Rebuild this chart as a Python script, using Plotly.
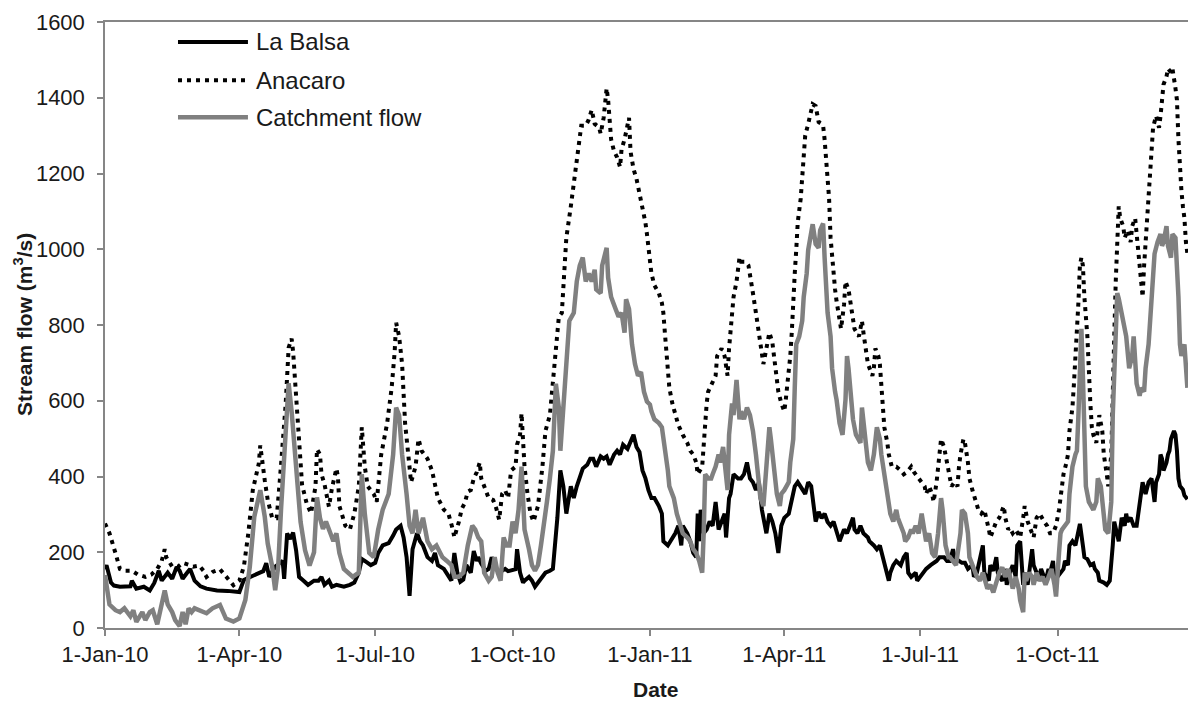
import plotly.graph_objects as go
import pandas as pd

# ---------------- data (day offset from 1-Jan-2010, stream flow m3/s) ----------------
la_balsa = [(0,155),(1,166),(4,120),(6,112),(10,109),(17,110),(18,125),(21,104),(26,109),(30,99),(33,119),(36,151),(38,125),(40,135),(42,146),(45,130),(48,161),(50,151),(52,130),(55,146),(57,156),(60,125),(64,110),(68,104),(75,99),(82,98),(86,97),(90,95),(93,127),(97,135),(100,140),(103,145),(106,150),(108,171),(110,135),(114,162),(117,171),(119,177),(120,130),(122,250),(124,235),(126,252),(128,205),(130,135),(133,125),(136,114),(140,125),(143,125),(145,135),(147,114),(150,125),(152,109),(155,114),(160,109),(164,114),(167,120),(170,146),(172,182),(174,177),(178,166),(181,172),(183,198),(186,218),(190,224),(193,244),(195,260),(198,270),(200,239),(202,187),(204,85),(206,208),(209,250),(211,229),(213,218),(216,187),(219,177),(221,198),(223,166),(227,156),(230,135),(232,125),(234,198),(236,146),(238,122),(240,128),(242,166),(245,146),(247,203),(249,177),(250,187),(252,170),(255,151),(257,156),(259,187),(261,161),(264,146),(266,150),(268,156),(270,150),(272,151),(275,155),(276,208),(278,146),(280,120),(281,125),(284,135),(286,125),(288,109),(290,120),(293,135),(295,146),(298,151),(300,156),(303,291),(305,416),(307,374),(309,302),(312,374),(314,343),(316,374),(318,395),(320,421),(323,431),(325,447),(327,447),(329,426),(332,453),(334,447),(336,453),(338,431),(341,458),(343,468),(345,458),(347,484),(350,473),(352,489),(354,510),(356,478),(358,465),(360,416),(362,395),(364,364),(366,343),(368,343),(371,322),(373,302),(374,229),(377,218),(380,239),(382,250),(384,270),(386,218),(387,270),(390,250),(392,229),(394,198),(396,187),(397,302),(398,229),(399,312),(401,250),(403,260),(405,281),(407,270),(409,333),(411,260),(413,281),(415,302),(416,239),(418,343),(419,354),(421,406),(424,395),(426,395),(428,406),(430,437),(432,395),(434,385),(436,364),(438,385),(440,312),(443,250),(445,302),(447,281),(449,250),(451,198),(453,270),(455,291),(458,302),(460,343),(462,374),(464,385),(467,364),(469,354),(471,385),(473,375),(476,281),(478,307),(480,290),(482,302),(484,280),(486,270),(488,281),(490,250),(492,229),(495,260),(497,250),(499,270),(501,291),(502,260),(504,250),(506,270),(508,250),(511,239),(512,229),(515,218),(517,208),(519,218),(521,187),(523,146),(525,125),(526,146),(528,166),(530,177),(533,166),(535,187),(537,198),(538,146),(540,135),(543,146),(544,125),(546,135),(548,146),(550,156),(553,166),(555,172),(557,177),(559,187),(562,187),(564,177),(566,177),(568,208),(569,187),(572,177),(574,172),(576,172),(578,156),(581,166),(582,135),(584,146),(586,187),(588,218),(589,146),(592,125),(593,166),(595,151),(597,187),(598,146),(600,130),(601,125),(603,156),(604,114),(606,146),(608,166),(610,135),(611,218),(613,229),(614,146),(615,114),(616,146),(618,114),(620,177),(621,208),(622,166),(624,146),(625,125),(627,156),(629,135),(630,125),(632,156),(633,146),(635,177),(636,125),(638,135),(640,146),(642,156),(643,177),(645,166),(646,218),(648,229),(650,218),(651,239),(653,275),(655,218),(656,187),(658,182),(660,166),(662,170),(663,156),(665,146),(666,125),(669,120),(671,114),(673,125),(674,166),(675,218),(676,281),(678,250),(679,229),(681,291),(683,270),(684,302),(685,281),(687,291),(689,270),(691,270),(692,302),(694,354),(695,385),(697,354),(698,374),(699,385),(701,395),(703,333),(704,385),(706,406),(707,458),(708,447),(709,416),(711,437),(712,458),(713,468),(714,499),(716,520),(717,510),(718,468),(719,395),(720,375),(722,365),(723,350),(725,340)]

anacaro = [(0,276),(3,250),(7,198),(10,156),(13,151),(18,151),(22,141),(27,135),(31,141),(35,156),(38,177),(40,208),(41,187),(45,162),(49,162),(52,172),(56,167),(59,162),(63,165),(66,151),(68,135),(72,148),(77,155),(81,135),(86,113),(90,125),(93,162),(96,250),(99,364),(103,434),(104,482),(107,390),(109,338),(112,290),(115,290),(117,385),(119,496),(121,590),(123,740),(125,764),(126,730),(127,666),(128,590),(130,478),(132,378),(135,330),(138,303),(141,374),(142,472),(144,458),(145,406),(147,380),(150,320),(152,369),(155,421),(156,400),(157,322),(161,270),(164,260),(167,302),(170,374),(172,530),(174,426),(176,374),(180,354),(182,333),(185,458),(189,541),(192,634),(194,728),(195,806),(197,770),(199,697),(201,541),(203,458),(205,385),(208,426),(210,499),(212,468),(216,447),(219,416),(221,374),(223,343),(227,312),(230,302),(233,260),(234,239),(237,280),(239,315),(241,330),(243,360),(245,364),(247,395),(249,411),(251,437),(252,395),(255,364),(257,343),(260,338),(262,317),(264,286),(266,354),(268,364),(270,343),(272,416),(275,426),(276,484),(278,510),(279,567),(280,489),(281,426),(283,354),(285,302),(287,281),(290,322),(293,426),(295,520),(298,562),(300,645),(302,738),(304,822),(306,832),(308,946),(309,1030),(312,1113),(314,1175),(316,1248),(319,1326),(322,1326),(324,1342),(326,1368),(328,1331),(331,1321),(332,1305),(334,1347),(336,1425),(337,1394),(339,1290),(341,1258),(343,1243),(345,1217),(346,1264),(348,1290),(351,1347),(352,1258),(354,1212),(356,1186),(358,1149),(360,1118),(362,1070),(363,1040),(365,980),(366,936),(368,905),(371,884),(373,858),(374,832),(375,780),(376,728),(377,686),(378,634),(380,593),(382,562),(384,536),(387,510),(390,489),(392,468),(394,458),(396,437),(397,406),(400,426),(401,489),(402,541),(403,593),(404,624),(406,640),(409,666),(410,718),(413,738),(415,718),(416,686),(417,666),(418,738),(419,790),(420,822),(421,874),(423,915),(424,957),(425,978),(426,967),(429,967),(431,957),(432,936),(434,884),(436,832),(438,780),(439,759),(440,728),(441,697),(443,738),(444,759),(445,780),(447,754),(448,718),(449,697),(450,666),(451,624),(453,593),(455,572),(456,603),(458,666),(459,718),(460,780),(461,874),(462,936),(463,998),(464,1071),(466,1134),(467,1186),(468,1248),(469,1300),(471,1331),(473,1362),(474,1383),(476,1378),(477,1357),(478,1336),(480,1331),(481,1326),(482,1290),(483,1238),(484,1186),(485,1134),(486,1030),(487,978),(488,936),(489,894),(490,863),(491,842),(492,811),(493,790),(495,853),(496,915),(498,894),(499,863),(501,811),(502,790),(505,770),(507,811),(508,780),(510,728),(511,697),(514,666),(515,686),(516,738),(518,718),(519,697),(520,634),(521,582),(522,530),(524,489),(525,458),(527,426),(530,426),(533,416),(535,406),(537,411),(540,426),(542,411),(545,395),(547,385),(549,374),(550,354),(552,374),(554,354),(555,333),(557,385),(558,426),(559,458),(560,499),(562,478),(563,458),(565,406),(567,374),(569,385),(571,374),(572,426),(573,458),(575,499),(576,489),(578,437),(579,395),(581,364),(583,333),(585,312),(587,302),(589,312),(592,260),(593,239),(595,260),(597,281),(599,291),(601,315),(602,322),(603,291),(605,260),(606,265),(608,250),(610,260),(613,239),(615,291),(616,322),(618,281),(620,260),(622,239),(624,291),(626,302),(629,281),(631,270),(633,250),(635,250),(637,270),(639,312),(641,374),(642,406),(644,437),(645,458),(646,520),(648,582),(649,645),(650,707),(651,770),(652,860),(653,957),(654,978),(655,957),(656,874),(658,770),(659,666),(660,593),(661,530),(662,510),(664,489),(666,562),(668,520),(669,458),(671,406),(672,374),(674,458),(675,666),(676,770),(677,915),(678,1061),(679,1113),(680,1082),(682,1061),(683,1030),(685,1050),(687,1019),(688,1061),(690,1082),(691,1040),(692,978),(693,936),(695,874),(696,957),(697,1019),(699,1123),(700,1206),(701,1248),(702,1321),(704,1352),(706,1321),(707,1352),(708,1394),(709,1435),(711,1456),(712,1477),(714,1467),(715,1477),(717,1425),(718,1394),(719,1290),(720,1206),(721,1154),(722,1113),(723,1082),(724,1019),(725,988)]

catchment = [(0,140),(3,62),(7,47),(10,42),(13,52),(17,31),(19,47),(21,16),(25,42),(27,21),(30,42),(32,47),(35,10),(37,42),(39,83),(40,99),(42,62),(45,42),(47,21),(50,5),(52,42),(54,10),(56,52),(58,42),(60,52),(64,45),(68,39),(72,52),(77,61),(81,25),(86,17),(90,25),(94,74),(97,162),(100,294),(104,364),(107,294),(109,223),(112,162),(114,100),(116,162),(118,320),(120,450),(122,580),(123,646),(125,572),(127,478),(129,380),(131,280),(134,205),(137,165),(140,200),(142,345),(144,290),(146,262),(148,281),(151,250),(153,229),(155,250),(157,198),(160,156),(163,146),(166,135),(170,146),(172,406),(174,302),(177,198),(180,187),(183,260),(186,312),(190,354),(193,458),(195,582),(197,562),(199,458),(202,354),(204,270),(206,250),(208,312),(210,250),(213,291),(216,229),(219,208),(222,218),(226,187),(229,177),(232,166),(234,135),(237,135),(240,146),(243,218),(246,270),(248,260),(250,239),(252,229),(254,146),(257,125),(259,135),(261,187),(263,146),(265,125),(267,239),(269,218),(271,218),(273,281),(275,250),(277,312),(279,426),(280,354),(281,260),(284,208),(286,166),(288,151),(290,166),(292,218),(295,291),(296,333),(298,395),(300,468),(302,645),(304,582),(305,468),(307,582),(309,686),(311,811),(314,832),(316,915),(318,957),(320,978),(322,915),(324,936),(326,915),(328,946),(329,894),(332,884),(333,957),(336,1004),(337,925),(339,874),(342,842),(344,822),(346,832),(348,780),(349,868),(351,842),(353,749),(355,697),(357,666),(359,676),(361,624),(363,598),(365,590),(366,572),(368,551),(371,541),(373,530),(375,478),(377,416),(378,374),(381,343),(383,302),(385,270),(387,250),(390,239),(392,229),(394,208),(396,198),(398,177),(400,146),(401,250),(402,406),(404,395),(406,395),(407,406),(409,426),(411,458),(412,437),(414,478),(415,447),(417,364),(418,510),(420,593),(421,562),(423,655),(425,551),(426,572),(428,551),(430,582),(432,562),(434,520),(436,458),(438,395),(439,343),(441,322),(443,416),(445,530),(446,499),(448,416),(450,354),(452,322),(453,354),(455,364),(458,385),(459,437),(461,499),(462,634),(463,749),(465,770),(467,811),(468,874),(470,936),(471,998),(473,1050),(474,1066),(476,1014),(478,1004),(479,1050),(481,1068),(482,978),(483,894),(484,832),(486,770),(487,686),(489,624),(490,603),(492,541),(494,510),(496,603),(497,718),(498,686),(500,603),(501,551),(503,510),(505,499),(506,489),(507,582),(508,541),(510,468),(511,437),(513,416),(515,458),(517,530),(519,499),(520,458),(522,406),(524,354),(525,312),(526,302),(528,281),(530,312),(531,291),(533,270),(535,250),(536,229),(538,239),(540,260),(541,250),(543,270),(545,250),(547,302),(549,239),(550,229),(552,250),(554,198),(556,187),(558,250),(560,343),(561,312),(563,218),(565,187),(566,187),(568,177),(570,166),(573,250),(574,312),(576,302),(578,250),(579,187),(582,156),(584,135),(586,125),(588,146),(591,104),(593,114),(595,94),(597,125),(599,146),(601,160),(603,135),(605,156),(607,125),(608,104),(610,135),(612,104),(613,73),(615,42),(616,146),(617,125),(619,146),(621,135),(622,114),(624,146),(625,135),(626,125),(628,135),(630,114),(632,135),(634,156),(636,114),(637,83),(639,198),(640,250),(641,260),(643,270),(645,281),(646,354),(648,426),(650,458),(651,468),(652,562),(653,720),(654,790),(655,666),(656,510),(657,374),(659,333),(661,322),(662,312),(664,333),(665,395),(667,374),(669,302),(670,260),(672,250),(674,333),(675,562),(676,686),(677,790),(678,884),(679,870),(681,832),(683,790),(684,770),(686,686),(688,718),(689,770),(690,718),(691,645),(693,613),(694,634),(696,624),(697,686),(699,749),(700,811),(702,936),(703,988),(705,1019),(707,1040),(708,1009),(709,1019),(711,1061),(712,1009),(714,978),(715,1040),(717,1030),(718,957),(719,874),(720,749),(721,718),(723,749),(724,707),(725,634)]

series_names = ["La Balsa", "Anacaro", "Catchment flow"]
tick_dates = ["2010-01-01", "2010-04-01", "2010-07-01", "2010-10-01",
              "2011-01-01", "2011-04-01", "2011-07-01", "2011-10-01"]
tick_labels = ["1-Jan-10", "1-Apr-10", "1-Jul-10", "1-Oct-10",
               "1-Jan-11", "1-Apr-11", "1-Jul-11", "1-Oct-11"]
y_ticks = [0, 200, 400, 600, 800, 1000, 1200, 1400, 1600]

start = pd.Timestamp("2010-01-01")


def to_xy(points):
    x = [start + pd.Timedelta(days=d) for d, _ in points]
    y = [v for _, v in points]
    return x, y


FONT = "Liberation Sans, Arial, sans-serif"
AXIS = "#868686"
TEXT = "#1a1a1a"

styles = [
    dict(color="#000000", width=4),
    dict(color="#000000", width=4, dash="4px,5px"),
    dict(color="#808080", width=4.5),
]

fig = go.Figure()
for pts, name, st in zip([la_balsa, anacaro, catchment], series_names, styles):
    x, y = to_xy(pts)
    fig.add_trace(go.Scatter(x=x, y=y, mode="lines", name=name, line=st,
                             showlegend=False, hoverinfo="x+y+name"))

# manual legend (inside plot, top-left)
leg_y = [0.967, 0.904, 0.843]
for name, st, yy in zip(series_names, styles, leg_y):
    fig.add_shape(type="line", xref="paper", yref="paper", x0=0.0674, x1=0.132,
                  y0=yy, y1=yy, line=dict(color=st["color"], width=st["width"],
                                          dash=st.get("dash", "solid")))
    fig.add_annotation(xref="paper", yref="paper", x=0.1376, y=yy, text=name,
                       showarrow=False, xanchor="left", yanchor="middle",
                       font=dict(family=FONT, size=24, color=TEXT))

# axis titles
fig.add_annotation(xref="paper", yref="paper", x=0.5088, y=-0.1023, text="<b>Date</b>",
                   showarrow=False, xanchor="center", yanchor="middle",
                   font=dict(family=FONT, size=21, color=TEXT))
fig.add_annotation(xref="paper", yref="paper", x=-0.0757, y=0.5,
                   text="<b>Stream flow (m<sup>3</sup>/s)</b>", textangle=-90,
                   showarrow=False, xanchor="center", yanchor="middle",
                   font=dict(family=FONT, size=21, color=TEXT))

fig.update_layout(
    width=1188, height=707,
    margin=dict(l=105, r=0, t=22, b=79),
    paper_bgcolor="white", plot_bgcolor="white",
    font=dict(family=FONT, size=22, color=TEXT),
    showlegend=False,
    xaxis=dict(
        type="date",
        range=[start, start + pd.Timedelta(days=725.4)],
        tickvals=tick_dates, ticktext=tick_labels,
        showline=True, linecolor=AXIS, linewidth=1.5, mirror=True,
        ticks="outside", ticklen=6, tickcolor=AXIS, tickwidth=1.5,
        showgrid=False, zeroline=False,
        tickfont=dict(family=FONT, size=22, color=TEXT),
    ),
    yaxis=dict(
        range=[0, 1600], tickvals=y_ticks,
        showline=True, linecolor=AXIS, linewidth=1.5,
        ticks="outside", ticklen=6, tickcolor=AXIS, tickwidth=1.5,
        ticklabelstandoff=8,
        showgrid=False, zeroline=False,
        tickfont=dict(family=FONT, size=22, color=TEXT),
    ),
)

fig.write_html("out.html",
               config={"displayModeBar": False},
               post_script="document.body.style.margin='0';document.body.style.overflow='hidden';")
